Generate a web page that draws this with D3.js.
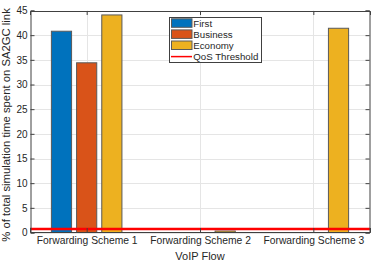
<!DOCTYPE html>
<html><head><meta charset="utf-8">
<script src="https://cdn.jsdelivr.net/npm/d3@7"></script>
<style>body{margin:0;background:#fff}svg{display:block;font-family:"Liberation Sans",Arial,sans-serif}</style>
</head><body><svg id="c" width="374" height="262"></svg>
<script>
const categories = ["Forwarding Scheme 1","Forwarding Scheme 2","Forwarding Scheme 3"];
const seriesNames = ["First","Business","Economy"];
const first = [40.8, 0, 0];
const business = [34.4, 0, 0];
const economy = [44.1, 0.3, 41.4];
const qosThreshold = 0.7;
const yTicks = [0,5,10,15,20,25,30,35,40,45];
const colors = ["#0072BD","#D95319","#EDB120"];
const series = [first, business, economy];

const svg = d3.select("#c");
const L=30, R=370, T=10.5, B=232.5;
const x = d3.scaleLinear().domain([0.5,3.5]).range([L,R]);
const y = d3.scaleLinear().domain([0,45]).range([B,T]);
const axisCol="#404040";

// grid
const g = svg.append("g");
g.selectAll(".hg").data(yTicks).enter().append("line")
 .attr("x1",L).attr("x2",R).attr("y1",d=>Math.round(y(d))+0.5).attr("y2",d=>Math.round(y(d))+0.5)
 .attr("stroke","#e5e5e5");
g.selectAll(".vg").data(categories).enter().append("line")
 .attr("x1",(d,i)=>Math.round(x(i+1))+0.5).attr("x2",(d,i)=>Math.round(x(i+1))+0.5).attr("y1",T).attr("y2",B)
 .attr("stroke","#e5e5e5");

// bars
const off=[-0.2222,0,0.2222], bw=0.178;
series.forEach((s,k)=>{
  svg.append("g").selectAll("rect").data(s).enter().append("rect")
   .attr("x",(d,i)=>x(i+1+off[k]-bw/2))
   .attr("width",x(bw)-x(0))
   .attr("y",d=>y(d)).attr("height",d=>B-y(d))
   .attr("fill",colors[k]).attr("stroke",d=>d>0?"#5a5a5a":"none").attr("stroke-width",1);
});

// threshold
svg.append("line").attr("x1",L).attr("x2",R).attr("y1",y(qosThreshold)).attr("y2",y(qosThreshold))
 .attr("stroke","#ff0000").attr("stroke-width",2.5);

// axes
const yAx = d3.axisLeft(y).tickValues(yTicks).tickSize(-4).tickPadding(3);
const ya = svg.append("g").attr("transform",`translate(${L+0.5},0)`).call(yAx);
const yr = svg.append("g").attr("transform",`translate(${R-0.5},0)`).call(d3.axisRight(y).tickValues(yTicks).tickSize(-4).tickFormat(""));
const xAx = d3.axisBottom(x).tickValues([1,2,3]).tickFormat((d)=>categories[d-1]).tickSize(-4).tickPadding(5);
const xa = svg.append("g").attr("transform",`translate(0,${B-0.5})`).call(xAx);
const xt = svg.append("g").attr("transform",`translate(0,${T+0.5})`).call(d3.axisTop(x).tickValues([1,2,3]).tickSize(-4).tickFormat(""));
[ya,yr,xa,xt].forEach(a=>{
  a.selectAll("path").attr("stroke",axisCol);
  a.selectAll("line").attr("stroke",axisCol);
  a.selectAll("text").attr("fill","#262626").style("font-family","Liberation Sans, Arial, sans-serif");
});
ya.selectAll("text").style("font-size","10px");
xa.selectAll("text").style("font-size","10.3px");

// labels
svg.append("text").attr("x",(L+R)/2).attr("y",260).attr("text-anchor","middle")
 .style("font-size","11px").attr("fill","#262626").text("VoIP Flow");
svg.append("text").attr("transform",`translate(10,125) rotate(-90)`).attr("text-anchor","middle")
 .style("font-size","11.3px").attr("fill","#262626").text("% of total simulation time spent on SA2GC link");

// legend
const lg = svg.append("g");
lg.append("rect").attr("x",169.5).attr("y",17.5).attr("width",92).attr("height",45)
 .attr("fill","#fff").attr("stroke","#404040");
const names = seriesNames.concat(["QoS Threshold"]);
names.forEach((n,i)=>{
  const cy = 23.3 + i*11.1;
  if(i<3){
    lg.append("rect").attr("x",171.5).attr("y",cy-4.5).attr("width",20.5).attr("height",8.5)
     .attr("fill",colors[i]).attr("stroke","#5a5a5a");
  } else {
    lg.append("line").attr("x1",171).attr("x2",192).attr("y1",cy).attr("y2",cy).attr("stroke","#ff0000").attr("stroke-width",1.5);
  }
  lg.append("text").attr("x",193.3).attr("y",cy+3.6).style("font-size","9.7px").attr("fill","#262626").text(n);
});
</script></body></html>
